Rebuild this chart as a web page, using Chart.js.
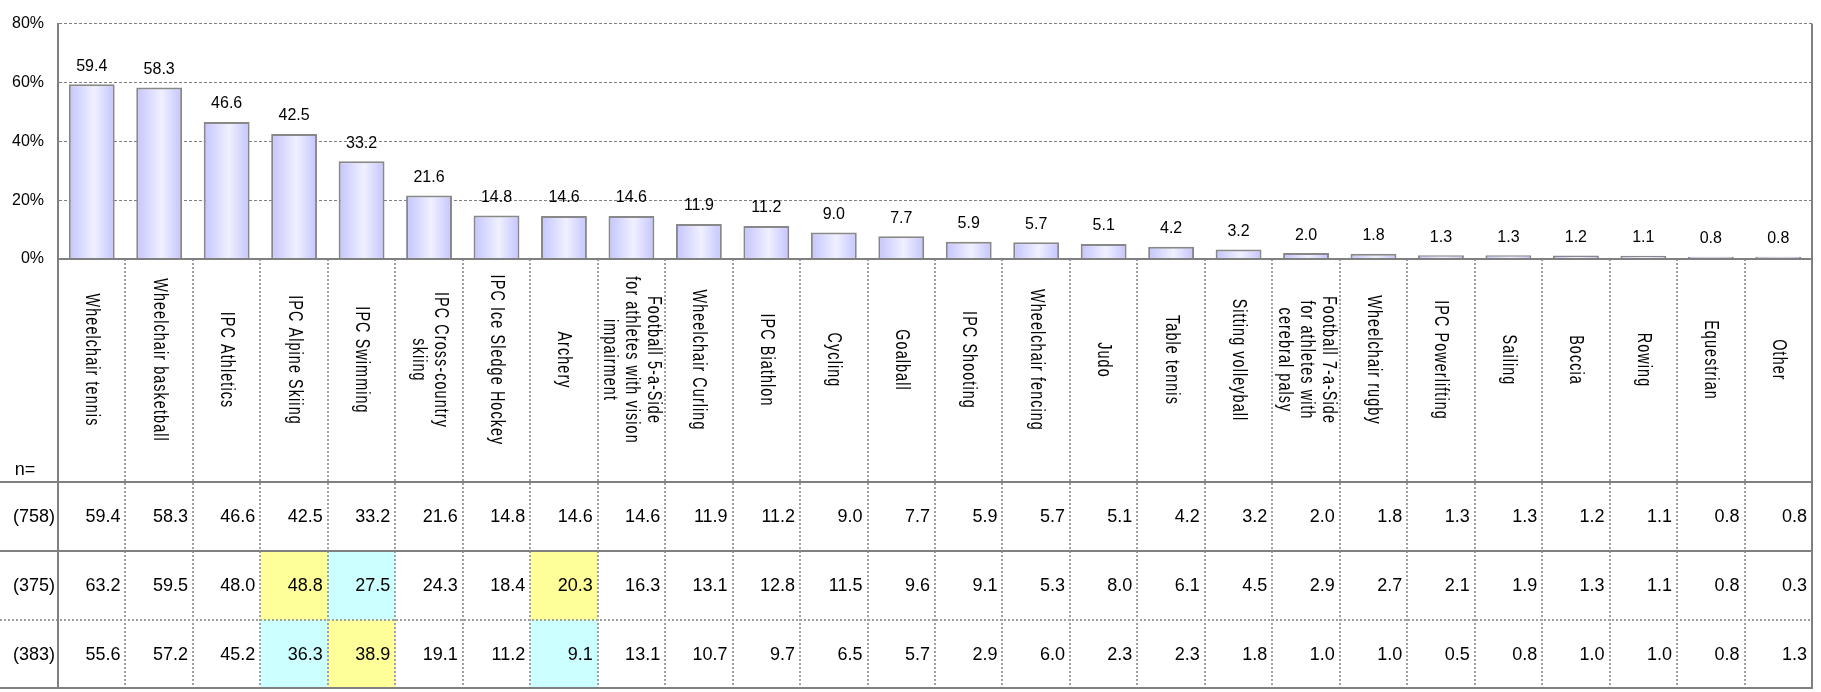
<!DOCTYPE html>
<html>
<head>
<meta charset="utf-8">
<script src="https://cdn.jsdelivr.net/npm/chart.js@4.4.1/dist/chart.umd.min.js"></script>
<style>
    html, body { margin: 0; padding: 0; background: #fff; }
    #wrap { width: 1821px; height: 692px; }
</style>
</head>
<body>
<div id="wrap"><canvas id="barChart" width="1821" height="692"></canvas></div>
<script>
const categories = [
    'Wheelchair tennis',
    'Wheelchair basketball',
    'IPC Athletics',
    'IPC Alpine Skiing',
    'IPC Swimming',
    'IPC Cross-country\nskiing',
    'IPC Ice Sledge Hockey',
    'Archery',
    'Football 5-a-Side\nfor athletes with vision\nimpairment',
    'Wheelchair Curling',
    'IPC Biathlon',
    'Cycling',
    'Goalball',
    'IPC Shooting',
    'Wheelchair fencing',
    'Judo',
    'Table tennis',
    'Sitting volleyball',
    'Football 7-a-Side\nfor athletes with\ncerebral palsy',
    'Wheelchair rugby',
    'IPC Powerlifting',
    'Sailing',
    'Boccia',
    'Rowing',
    'Equestrian',
    'Other'
];
const totalValues = [59.4, 58.3, 46.6, 42.5, 33.2, 21.6, 14.8, 14.6, 14.6, 11.9, 11.2, 9.0, 7.7, 5.9, 5.7, 5.1, 4.2, 3.2, 2.0, 1.8, 1.3, 1.3, 1.2, 1.1, 0.8, 0.8];
const group1Values = [63.2, 59.5, 48.0, 48.8, 27.5, 24.3, 18.4, 20.3, 16.3, 13.1, 12.8, 11.5, 9.6, 9.1, 5.3, 8.0, 6.1, 4.5, 2.9, 2.7, 2.1, 1.9, 1.3, 1.1, 0.8, 0.3];
const group2Values = [55.6, 57.2, 45.2, 36.3, 38.9, 19.1, 11.2, 9.1, 13.1, 10.7, 9.7, 6.5, 5.7, 2.9, 6.0, 2.3, 2.3, 1.8, 1.0, 1.0, 0.5, 0.8, 1.0, 1.0, 0.8, 1.3];
const rowLabels = ['(758)', '(375)', '(383)'];
const highCells = [[], [3, 7], [4]];   // 노란색 (높음)
const lowCells = [[], [4], [3, 7]];    // 하늘색 (낮음)
const yTicks = [0, 20, 40, 60, 80];

const tableRows = [totalValues, group1Values, group2Values];

const BAR_PCT = 0.68;
const HEADER_BOTTOM = 482;
const ROW_BOTTOMS = [551, 620, 688];
const LINE_GRAY = '#808080';
const FONT = '"Liberation Sans", Arial, sans-serif';

const ctx = document.getElementById('barChart');

function barFill(context) {
    const chart = context.chart;
    const xs = chart.scales.x;
    if (context.type !== 'data' || !xs || !chart.chartArea) return '#dcdcff';
    const cx = xs.getPixelForValue(context.dataIndex);
    const half = (xs.getPixelForValue(1) - xs.getPixelForValue(0)) * BAR_PCT / 2;
    if (!isFinite(cx) || !isFinite(half)) return '#dcdcff';
    const g = chart.ctx.createLinearGradient(cx - half, 0, cx + half, 0);
    g.addColorStop(0, '#c4c4ff');
    g.addColorStop(0.55, '#f0f0ff');
    g.addColorStop(1, '#c4c4ff');
    return g;
}

// 막대 위 값 라벨
const valueLabels = {
    id: 'valueLabels',
    afterDatasetsDraw(chart) {
        const c = chart.ctx;
        const meta = chart.getDatasetMeta(0);
        c.save();
        c.font = '16px ' + FONT;
        c.fillStyle = '#000';
        c.textAlign = 'center';
        c.textBaseline = 'middle';
        meta.data.forEach(function (bar, i) {
            c.fillText(totalValues[i].toFixed(1), bar.x, bar.y - 18);
        });
        c.restore();
    }
};

// 하단 표
const dataTable = {
    id: 'dataTable',
    afterDraw(chart) {
        const c = chart.ctx;
        const area = chart.chartArea;
        const xs = chart.scales.x;
        const step = xs.getPixelForValue(1) - xs.getPixelForValue(0);
        const top = area.bottom;
        const bottom = ROW_BOTTOMS[ROW_BOTTOMS.length - 1];

        c.save();

        // 강조 셀
        tableRows.forEach(function (row, r) {
            const y0 = r === 0 ? HEADER_BOTTOM : ROW_BOTTOMS[r - 1];
            const y1 = ROW_BOTTOMS[r];
            const paint = function (idx, color) {
                const left = xs.getPixelForValue(idx) - step / 2;
                c.fillStyle = color;
                c.fillRect(left, y0, step, y1 - y0);
            };
            highCells[r].forEach(function (i) { paint(i, '#ffff99'); });
            lowCells[r].forEach(function (i) { paint(i, '#ccffff'); });
        });

        // 세로 점선
        c.strokeStyle = '#a0a0a0';
        c.lineWidth = 2;
        c.setLineDash([2, 2]);
        for (let i = 1; i < categories.length; i++) {
            const bx = Math.round(xs.getPixelForValue(i) - step / 2);
            c.beginPath();
            c.moveTo(bx, top);
            c.lineTo(bx, bottom);
            c.stroke();
        }
        // 3번째 행 위 점선
        c.beginPath();
        c.moveTo(0, ROW_BOTTOMS[1]);
        c.lineTo(area.right, ROW_BOTTOMS[1]);
        c.stroke();
        c.setLineDash([]);

        // 실선
        c.strokeStyle = LINE_GRAY;
        c.lineWidth = 2;
        [HEADER_BOTTOM, ROW_BOTTOMS[0], ROW_BOTTOMS[2]].forEach(function (y) {
            c.beginPath();
            c.moveTo(0, y);
            c.lineTo(area.right + 1, y);
            c.stroke();
        });
        c.beginPath();
        c.moveTo(area.left, area.bottom);
        c.lineTo(area.right + 1, area.bottom);
        c.stroke();
        c.beginPath();
        c.moveTo(area.left, area.bottom);
        c.lineTo(area.left, bottom);
        c.stroke();
        c.beginPath();
        c.moveTo(area.right, area.top);
        c.lineTo(area.right, bottom);
        c.stroke();

        // 세로 카테고리 라벨 (좁고 높은 글꼴 흉내)
        c.fillStyle = '#000';
        c.font = '20px ' + FONT;
        c.textAlign = 'center';
        c.textBaseline = 'middle';
        if ('letterSpacing' in c) c.letterSpacing = '1.5px';
        categories.forEach(function (label, i) {
            const lines = label.split('\n');
            c.save();
            c.translate(xs.getPixelForValue(i), 360);
            c.rotate(Math.PI / 2);
            c.scale(0.72, 1);
            lines.forEach(function (line, k) {
                c.fillText(line, 0, (k - (lines.length - 1) / 2) * 22);
            });
            c.restore();
        });
        if ('letterSpacing' in c) c.letterSpacing = '0px';

        // 표 값
        c.font = '18px ' + FONT;
        c.textAlign = 'center';
        c.fillText('n=', 25, 470);
        tableRows.forEach(function (row, r) {
            const y0 = r === 0 ? HEADER_BOTTOM : ROW_BOTTOMS[r - 1];
            const cy = (y0 + ROW_BOTTOMS[r]) / 2 + 1;
            c.textAlign = 'right';
            c.fillText(rowLabels[r], 55, cy);
            row.forEach(function (v, i) {
                const right = xs.getPixelForValue(i) + step / 2 - 5;
                c.fillText(v.toFixed(1), right, cy);
            });
        });

        c.restore();
    }
};

new Chart(ctx, {
    type: 'bar',
    plugins: [valueLabels, dataTable],
    data: {
        labels: categories,
        datasets: [
            {
                data: totalValues,
                backgroundColor: barFill,
                borderColor: '#888888',
                borderWidth: 2,
                borderSkipped: 'bottom',
                barPercentage: BAR_PCT,
                categoryPercentage: 1
            }
        ]
    },
    options: {
        responsive: false,
        animation: false,
        layout: {
            padding: { left: 0, right: 9, top: 17, bottom: 433 }
        },
        plugins: {
            legend: { display: false },
            tooltip: { enabled: false }
        },
        scales: {
            x: {
                display: false,
                offset: true
            },
            y: {
                min: 0,
                max: 80,
                afterFit: function (scale) {
                    scale.width = 58;
                },
                afterBuildTicks: function (scale) {
                    scale.ticks = yTicks.map(function (v) { return { value: v }; });
                },
                grid: {
                    drawTicks: false,
                    color: LINE_GRAY,
                    lineWidth: 1
                },
                border: {
                    display: true,
                    color: LINE_GRAY,
                    width: 2,
                    dash: [3, 2]
                },
                ticks: {
                    padding: 14,
                    color: '#000',
                    font: { family: FONT, size: 16 },
                    callback: function (v) { return v + '%'; }
                }
            }
        }
    }
});
</script>
</body>
</html>
